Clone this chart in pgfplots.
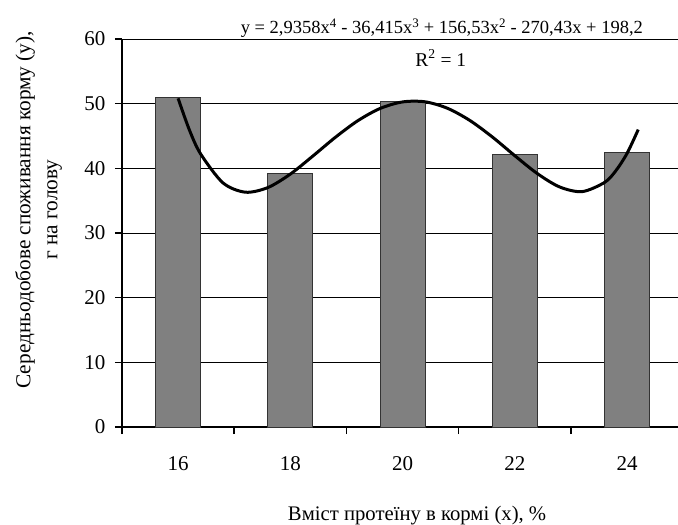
\documentclass[border=0pt]{standalone}
\usepackage{fontspec}
\setmainfont{Liberation Serif}
\usepackage{pgfplots}
\pgfplotsset{compat=1.18}
\definecolor{bargray}{RGB}{128,128,128}
\begin{document}
\begin{tikzpicture}
\begin{axis}[
scale only axis,
width=560pt, height=388pt,
xmin=0.5, xmax=5.49,
ymin=0, ymax=60,
axis lines*=left,
axis line style={line width=1.8pt},
tick align=outside,
major tick length=7pt,
tick style={black, line width=1.5pt},
ytick={0,10,...,60},
ymajorgrids,
grid style={black, line width=0.8pt},
xtick={0.5,1.5,...,5.5},
xticklabels={},
extra x ticks={1,2,3,4,5},
extra x tick labels={16,18,20,22,24},
extra x tick style={major tick length=0pt, grid=none},
tick label style={font=\fontsize{21}{25}\selectfont},
xticklabel style={yshift=-26pt},
yticklabel style={xshift=-6pt},
/pgf/number format/assume math mode=true,
xlabel={Вміст протеїну в кормі (х), \%},
xlabel style={font=\fontsize{20.7}{25}\selectfont, at={(axis description cs:0.527,0)}, anchor=center, yshift=-89pt},
ylabel={Середньодобове споживання корму (у),\\[2pt] г на голову},
ylabel style={font=\fontsize{21.3}{25}\selectfont, at={(axis description cs:-0.149,0.56)}, anchor=center, align=center},
clip=false,
]
\coordinate (ll) at (rel axis cs:0,0);

% bars
\addplot[ybar, bar width=0.4, fill=bargray, draw=black!80, line width=0.8pt]
coordinates {(1,50.9) (2,39.2) (3,50.3) (4,42.1) (5,42.4)};

% polynomial trend line
\addplot[smooth, black, line width=3pt] coordinates {
(1.0,50.82) (1.1,45.96) (1.2,42.25) (1.4,37.75) (1.6,36.31) (1.8,37.03)
(2.0,39.11) (2.2,41.89) (2.4,44.78) (2.6,47.35) (2.8,49.26) (3.0,50.27)
(3.2,50.29) (3.4,49.29) (3.6,47.40) (3.8,44.85) (4.0,41.96) (4.2,39.20)
(4.4,37.12) (4.6,36.40) (4.8,37.82) (4.9,39.62) (5.0,42.30) (5.1,45.99)
};

\node[font=\fontsize{18.5}{22}\selectfont] at (axis cs:3.35,61.7)
{y = 2,9358x\textsuperscript{4} - 36,415x\textsuperscript{3} + 156,53x\textsuperscript{2} - 270,43x + 198,2};
\node[font=\fontsize{19.5}{23}\selectfont] at (axis cs:3.34,57.1) {R\textsuperscript{2} = 1};
\end{axis}
\pgfresetboundingbox
\path ([shift={(-122pt,-98pt)}]ll) rectangle ++(678pt,525pt);
\end{tikzpicture}
\end{document}
